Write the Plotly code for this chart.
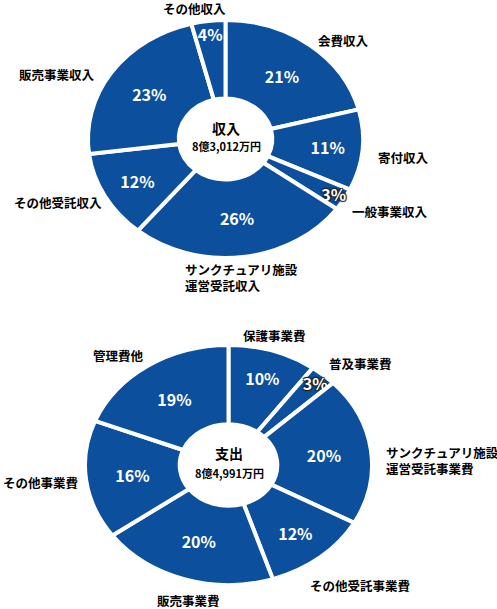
import plotly.graph_objects as go

# ---- data ----
income_labels = ["会費収入", "寄付収入", "一般事業収入", "サンクチュアリ施設<br>運営受託収入",
                 "その他受託収入", "販売事業収入", "その他収入"]
income_values = [21, 11, 3, 26, 12, 23, 4]
income_title = "収入"
income_total = "8億3,012万円"

expense_labels = ["保護事業費", "普及事業費", "サンクチュアリ施設<br>運営受託事業費",
                  "その他受託事業費", "販売事業費", "その他事業費", "管理費他"]
expense_values = [10, 3, 20, 12, 20, 16, 19]
expense_title = "支出"
expense_total = "8億4,991万円"

W, H = 497, 609
BLUE = "#0c4f9c"
FONT = "Noto Sans CJK JP"


def px(x):
    return x / W


def py(y):
    return 1 - y / H


fig = go.Figure()


def add_pie(labels, values, cx, cy, d):
    shadows = ["1px 1px 1px #222, -1px -1px 1px #222, 1px -1px 1px #222, -1px 1px 1px #222"
               if v <= 3 else "none" for v in values]
    base = dict(family=FONT, size=16, color="white")
    try:
        tf = go.pie.Textfont(**base, shadow=shadows)
    except Exception:
        tf = go.pie.Textfont(**base)
    fig.add_trace(go.Pie(
        labels=labels, values=values, sort=False, direction="clockwise", rotation=0,
        hole=0.34,
        marker=dict(colors=[BLUE] * len(values), line=dict(color="white", width=4)),
        textposition="inside", insidetextorientation="horizontal",
        texttemplate="<b>%{value}%</b>",
        textfont=tf,
        hoverinfo="label+percent", showlegend=False,
        domain=dict(x=[px(cx - d / 2), px(cx + d / 2)], y=[py(cy + d / 2), py(cy - d / 2)]),
    ))


# pies: circle sized to the vertical extent, stretched horizontally afterwards
add_pie(income_labels, income_values, 225.5, 139, 238)
add_pie(expense_labels, expense_values, 228.5, 465, 240)
STRETCH = [275 / 238, 287 / 240]

anns = []


def lab(text, x, y, anchor="center"):
    anns.append(dict(text=f"<b>{text}</b>", x=px(x), y=py(y), xref="paper", yref="paper",
                     xanchor=anchor, yanchor="middle", align="left", showarrow=False,
                     font=dict(family=FONT, size=12.5, color="black")))


# income labels
inc_pos = [(343, 40, "center"), (403, 157, "center"), (390, 211, "center"),
           (183, 277, "left"), (58, 203, "center"), (57, 75, "center"), (194, 9, "center")]
for t, (x, y, a) in zip(income_labels, inc_pos):
    lab(t, x, y, a)

# expense labels
exp_pos = [(274, 335, "center"), (360, 363, "center"), (384, 460, "left"),
           (360, 585, "center"), (188, 600, "center"), (40, 482, "center"), (118, 355, "center")]
for t, (x, y, a) in zip(expense_labels, exp_pos):
    lab(t, x, y, a)


def center(title, total, x, y1, y2):
    anns.append(dict(text=f"<b>{title}</b>", x=px(x), y=py(y1), xref="paper", yref="paper",
                     xanchor="center", yanchor="middle", showarrow=False,
                     font=dict(family=FONT, size=14, color="black")))
    anns.append(dict(text=f"<b>{total}</b>", x=px(x), y=py(y2), xref="paper", yref="paper",
                     xanchor="center", yanchor="middle", showarrow=False,
                     font=dict(family=FONT, size=11, color="black")))


center(income_title, income_total, 226, 128, 146)
center(expense_title, expense_total, 229, 453, 473)

fig.update_layout(
    width=W, height=H, margin=dict(l=0, r=0, t=0, b=0),
    paper_bgcolor="white", plot_bgcolor="white",
    annotations=anns,
    uniformtext=dict(minsize=15, mode="show"),
)

js = """
document.body.style.margin='0px';
(function(){
var gd = document.getElementById('{plot_id}');
var SX = %s;
function fix(){
  if (gd.getAttribute('data-stretched')) return;
  var svg = gd.querySelector('svg.main-svg');
  var traces = gd.querySelectorAll('.pielayer g.trace');
  if (!svg || !traces.length) return;
  var sr = svg.getBoundingClientRect();
  gd.setAttribute('data-stretched','1');
  traces.forEach(function(g, i){
    var sx = SX[i];
    var paths = g.querySelectorAll('path.surface');
    var minx=1e9, maxx=-1e9;
    paths.forEach(function(p){var r=p.getBoundingClientRect(); minx=Math.min(minx,r.left); maxx=Math.max(maxx,r.right);});
    var cx = (minx+maxx)/2 - sr.left;
    paths.forEach(function(p){
      p.setAttribute('transform','matrix('+sx+',0,0,1,'+(cx*(1-sx))+',0)');
      p.style.vectorEffect='non-scaling-stroke';
    });
    g.querySelectorAll('g.slicetext').forEach(function(t){
      var r=t.getBoundingClientRect();
      var tcx=(r.left+r.right)/2 - sr.left;
      var dx=(tcx-cx)*(sx-1);
      t.setAttribute('transform','translate('+dx+',0) '+(t.getAttribute('transform')||''));
    });
  });
}
fix();
})();
""" % str(STRETCH)

fig.write_html("out.html", config={"displayModeBar": False}, post_script=js)
